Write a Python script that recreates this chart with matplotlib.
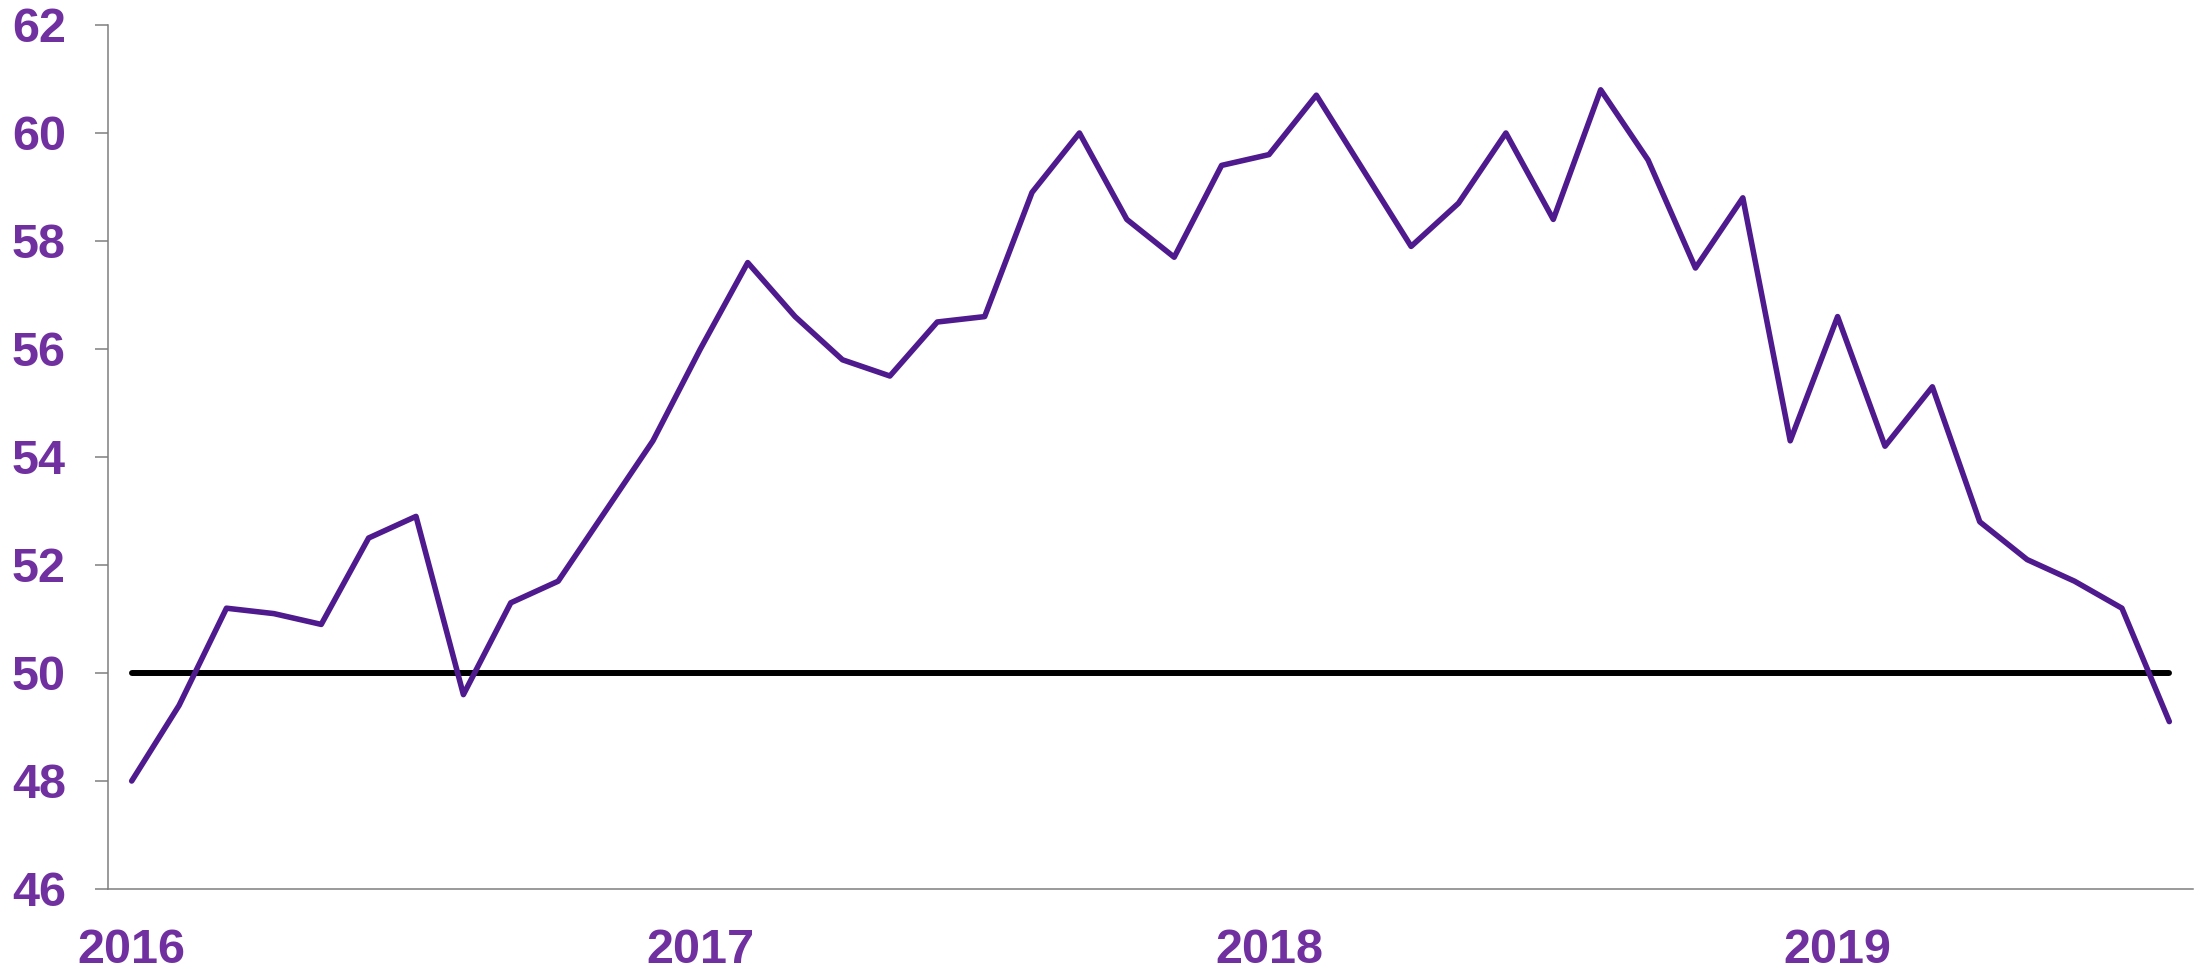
import matplotlib
matplotlib.use("Agg")
import matplotlib.pyplot as plt
import pandas as pd

# ---- data ----
months = pd.date_range("2016-01-01", periods=44, freq="MS")
values = [48.0, 49.4, 51.2, 51.1, 50.9, 52.5, 52.9, 49.6, 51.3, 51.7,
          53.0, 54.3, 56.0, 57.6, 56.6, 55.8, 55.5, 56.5, 56.6, 58.9,
          60.0, 58.4, 57.7, 59.4, 59.6, 60.7, 59.3, 57.9, 58.7, 60.0,
          58.4, 60.8, 59.5, 57.5, 58.8, 54.3, 56.6, 54.2, 55.3, 52.8,
          52.1, 51.7, 51.2, 49.1]
threshold = 50
y_ticks = [46, 48, 50, 52, 54, 56, 58, 60, 62]

plt.rcParams['font.family'] = ['Liberation Sans', 'DejaVu Sans']

fig = plt.figure(figsize=(22.08, 9.69), dpi=100)
ax = fig.add_axes([108 / 2208, 1 - 889 / 969, (2193 - 108) / 2208, (889 - 25) / 969])

x = list(range(len(values)))
ax.plot([x[0], x[-1]], [threshold, threshold], color='black', lw=4.3,
        solid_capstyle='round', zorder=2)
ax.plot(x, values, color='#4E1A8E', lw=4.0, solid_capstyle='round',
        solid_joinstyle='round', zorder=3)

ax.set_xlim(-0.5, len(values) - 0.5)
ax.set_ylim(46, 62)

ax.set_yticks(y_ticks)
ax.set_yticklabels([str(t) for t in y_ticks])
jan_idx = [i for i, m in enumerate(months) if m.month == 1]
ax.set_xticks(jan_idx)
ax.set_xticklabels([str(months[i].year) for i in jan_idx])

label_color = '#7030A0'
ax.tick_params(axis='y', length=9.4, width=1.1, color='#7f7f7f', pad=21,
               labelsize=35, labelcolor=label_color)
ax.tick_params(axis='x', length=0, pad=28, labelsize=35, labelcolor=label_color)
for lab in ax.get_xticklabels() + ax.get_yticklabels():
    lab.set_fontweight('bold')

for s in ['top', 'right']:
    ax.spines[s].set_visible(False)
for s in ['left', 'bottom']:
    ax.spines[s].set_color('#7f7f7f')
    ax.spines[s].set_linewidth(1.1)

fig.savefig("out.png", dpi=100, facecolor='white')
